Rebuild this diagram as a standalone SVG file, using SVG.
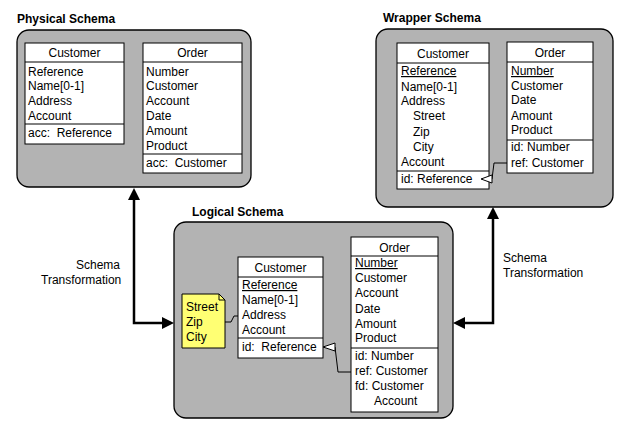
<svg xmlns="http://www.w3.org/2000/svg" width="630" height="421" viewBox="0 0 630 421">
<style>
text{font-family:"Liberation Sans",Arial,sans-serif;font-size:12px;fill:#000;white-space:pre}
.title{font-weight:bold}
.hdr{text-anchor:middle}
.schema{fill:#b3b3b3;stroke:#000;stroke-width:1.3}
.cls{fill:#fff;stroke:#000;stroke-width:1}
.sep{stroke:#000;stroke-width:1}
.u{text-decoration:underline}
.conn{fill:none;stroke:#000;stroke-width:1}
.big{fill:none;stroke:#000;stroke-width:2.5}
.tri{fill:#fff;stroke:#000;stroke-width:1}
.note{fill:#ffff73;stroke:#000;stroke-width:1}
</style>
<defs>
<marker id="ah" markerUnits="userSpaceOnUse" markerWidth="12" markerHeight="12" viewBox="0 0 12 12" refX="0" refY="6" orient="auto-start-reverse">
<path d="M0,0 L12,6 L0,12 z" fill="#000"/>
</marker>
</defs>

<g id="physical">
<text class="title" x="17" y="23">Physical Schema</text>
<rect class="schema" x="17" y="30" width="234" height="157" rx="12"/>
<g id="phys-customer">
<rect class="cls" x="25" y="43" width="99" height="101"/>
<line class="sep" x1="25" y1="62" x2="124" y2="62"/>
<line class="sep" x1="25" y1="124" x2="124" y2="124"/>
<text class="hdr" x="74.5" y="57">Customer</text>
<text x="28" y="76">Reference</text>
<text x="28" y="90">Name[0-1]</text>
<text x="28" y="105">Address</text>
<text x="28" y="120">Account</text>
<text x="28" y="137" xml:space="preserve">acc:  Reference</text>
</g>
<g id="phys-order">
<rect class="cls" x="143" y="43" width="99" height="130"/>
<line class="sep" x1="143" y1="62" x2="242" y2="62"/>
<line class="sep" x1="143" y1="154" x2="242" y2="154"/>
<text class="hdr" x="192.5" y="57">Order</text>
<text x="146" y="76">Number</text>
<text x="146" y="90">Customer</text>
<text x="146" y="105">Account</text>
<text x="146" y="120">Date</text>
<text x="146" y="135">Amount</text>
<text x="146" y="150">Product</text>
<text x="146" y="167" xml:space="preserve">acc:  Customer</text>
</g>
</g>

<g id="wrapper">
<text class="title" x="383" y="22">Wrapper Schema</text>
<rect class="schema" x="376" y="29" width="237" height="178" rx="12"/>
<g id="wrap-customer">
<rect class="cls" x="397" y="43" width="92" height="146"/>
<line class="sep" x1="397" y1="63" x2="489" y2="63"/>
<line class="sep" x1="397" y1="171" x2="489" y2="171"/>
<text class="hdr" x="443" y="58">Customer</text>
<text class="u" x="401" y="75">Reference</text>
<text x="401" y="91">Name[0-1]</text>
<text x="401" y="105">Address</text>
<text x="413" y="120">Street</text>
<text x="413" y="136">Zip</text>
<text x="413" y="151">City</text>
<text x="401" y="166">Account</text>
<text x="401" y="183">id: Reference</text>
</g>
<g id="wrap-order">
<rect class="cls" x="507" y="42" width="86" height="131"/>
<line class="sep" x1="507" y1="62" x2="593" y2="62"/>
<line class="sep" x1="507" y1="140" x2="593" y2="140"/>
<text class="hdr" x="550" y="57">Order</text>
<text class="u" x="511" y="75">Number</text>
<text x="511" y="90">Customer</text>
<text x="511" y="104">Date</text>
<text x="511" y="120">Amount</text>
<text x="511" y="134">Product</text>
<text x="511" y="151">id: Number</text>
<text x="511" y="167">ref: Customer</text>
</g>
</g>

<g id="logical">
<text class="title" x="192" y="216">Logical Schema</text>
<rect class="schema" x="174" y="222" width="279" height="196" rx="12"/>
<g id="log-note">
<path class="note" d="M182,294 H219 L225,300 V348 H182 Z"/>
<path class="conn" d="M219,294 V300 H225"/>
<text x="186" y="311">Street</text>
<text x="186" y="326">Zip</text>
<text x="186" y="341">City</text>
</g>
<g id="log-customer">
<rect class="cls" x="238" y="257" width="85" height="101"/>
<line class="sep" x1="238" y1="277" x2="323" y2="277"/>
<line class="sep" x1="238" y1="338" x2="323" y2="338"/>
<text class="hdr" x="280.5" y="272">Customer</text>
<text class="u" x="242" y="289">Reference</text>
<text x="242" y="304">Name[0-1]</text>
<text x="242" y="319">Address</text>
<text x="242" y="334">Account</text>
<text x="242" y="351" xml:space="preserve">id:  Reference</text>
</g>
<g id="log-order">
<rect class="cls" x="351" y="237" width="87" height="175"/>
<line class="sep" x1="351" y1="256" x2="438" y2="256"/>
<line class="sep" x1="351" y1="348" x2="438" y2="348"/>
<text class="hdr" x="394.5" y="252">Order</text>
<text class="u" x="355" y="267">Number</text>
<text x="355" y="282">Customer</text>
<text x="355" y="297">Account</text>
<text x="355" y="313">Date</text>
<text x="355" y="328">Amount</text>
<text x="355" y="342">Product</text>
<text x="355" y="360">id: Number</text>
<text x="355" y="375">ref: Customer</text>
<text x="355" y="390">fd: Customer</text>
<text x="374" y="405">Account</text>
</g>
</g>

<g id="connectors">
<path class="conn" d="M225,322 H231 L234,316 H238"/>
<path class="conn" d="M335,347 L338,372 H351"/>
<polygon class="tri" points="323,347 335,343 335,351"/>
<path class="conn" d="M492,179 L494,163 H507"/>
<polygon class="tri" points="481,179 492,175 492,183"/>
<path class="big" d="M134,200 V323 H162" marker-start="url(#ah)" marker-end="url(#ah)"/>
<path class="big" d="M493,219 V323 H465" marker-start="url(#ah)" marker-end="url(#ah)"/>
<text x="76" y="269">Schema</text>
<text x="41" y="284">Transformation</text>
<text x="503" y="262">Schema</text>
<text x="503" y="277">Transformation</text>
</g>
</svg>
